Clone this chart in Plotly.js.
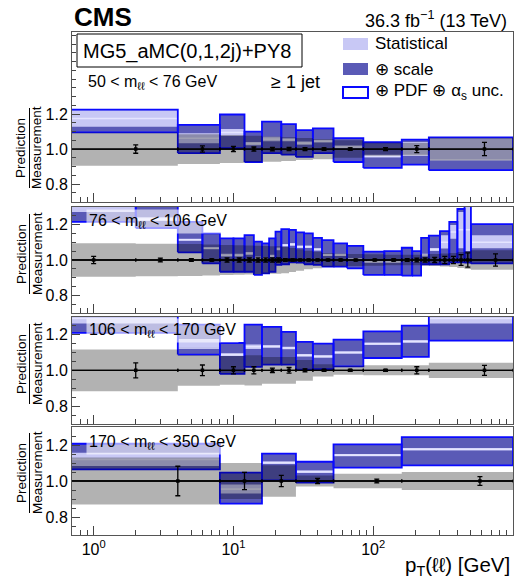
<!DOCTYPE html>
<html><head><meta charset="utf-8">
<script src="https://cdn.plot.ly/plotly-3.0.1.min.js"></script>
<style>html,body{margin:0;padding:0;background:#fff}#chart{width:525px;height:580px}</style>
</head><body><div id="chart"></div>
<script>
// ---------------- data: 50 < m < 76 GeV ----------------
const edges_50_76   = [0,4,8,12,16,22,28,37,52,85,160,250,1000];
const measUnc_50_76 = [0.095,0.085,0.08,0.076,0.072,0.068,0.063,0.058,0.05,0.038,0.036,0.065];
const measErr_50_76 = [0.024,0.018,0.015,0.012,0.01,0.009,0.008,0.007,0.007,0.008,0.02,0.038];
const predLo_50_76  = [1.096,0.977,1.006,0.926,0.977,0.968,0.955,0.977,0.926,0.892,0.911,0.879];
const predHi_50_76  = [1.226,1.138,1.198,1.100,1.157,1.143,1.109,1.119,1.063,1.039,1.054,1.067];
const statLo_50_76  = [1.128,1.034,1.075,1.022,1.045,1.045,1.025,1.038,1.005,0.952,0.964,0.943];
const statHi_50_76  = [1.222,1.091,1.115,1.040,1.070,1.062,1.043,1.053,1.020,0.968,1.040,1.062];
const predC_50_76   = [1.175,1.062,1.095,1.031,1.057,1.053,1.034,1.045,1.012,0.960,0.966,0.939];

// ---------------- data: 76 < m < 106 GeV ----------------
const edges_76_106   = [0,2,4,6,8,10,12,14,16,18,20,22,25,28,32,37,43,52,65,85,120,160,190,220,250,300,350,400,450,500,1000];
const measUnc_76_106 = [0.094,0.092,0.09,0.087,0.085,0.083,0.081,0.08,0.079,0.078,0.077,0.075,0.068,0.06,0.052,0.047,0.04,0.037,0.034,0.032,0.03,0.03,0.03,0.032,0.034,0.036,0.04,0.045,0.05,0.055];
const measErr_76_106 = [0.02,0.01,0.008,0.006,0.012,0.012,0.012,0.012,0.012,0.012,0.012,0.008,0.006,0.005,0.005,0.005,0.005,0.005,0.005,0.005,0.006,0.008,0.01,0.012,0.015,0.02,0.02,0.03,0.04,0.035];
const predLo_76_106  = [1.215,1.18,1.043,0.981,0.934,0.934,0.934,0.916,0.925,0.934,0.972,0.976,0.987,0.985,0.976,0.972,0.963,0.963,0.953,0.916,0.916,0.912,0.912,0.976,0.976,0.976,0.987,0.987,0.985,0.981];
const predHi_76_106  = [1.40,1.36,1.215,1.15,1.122,1.122,1.14,1.103,1.094,1.122,1.16,1.174,1.169,1.155,1.15,1.125,1.112,1.094,1.079,1.047,1.05,1.069,1.05,1.125,1.137,1.163,1.215,1.287,1.34,1.202];
const statLo_76_106  = [1.27,1.22,1.108,1.06,1.02,1.02,1.03,1.005,1.0,1.015,1.055,1.076,1.08,1.068,1.068,1.053,1.022,1.022,0.998,0.985,0.985,0.993,0.99,1.02,1.05,1.065,1.12,1.066,1.05,1.066];
const statHi_76_106  = [1.36,1.24,1.12,1.072,1.035,1.035,1.045,1.02,1.015,1.03,1.07,1.09,1.095,1.082,1.082,1.066,1.035,1.035,1.01,0.996,0.996,1.006,1.002,1.035,1.068,1.14,1.197,1.27,1.30,1.14];
const predC_76_106   = [1.31,1.23,1.114,1.066,1.027,1.027,1.037,1.012,1.007,1.022,1.062,1.083,1.087,1.075,1.075,1.06,1.028,1.028,1.004,0.99,0.99,0.999,0.996,1.027,1.059,1.1,1.158,1.17,1.17,1.1];

// ---------------- data: 106 < m < 170 GeV ----------------
const edges_106_170   = [0,4,8,12,16,22,28,37,52,85,160,250,1000];
const measUnc_106_170 = [0.117,0.086,0.08,0.085,0.075,0.075,0.058,0.034,0.025,0.028,0.028,0.043];
const measErr_106_170 = [0.042,0.03,0.02,0.02,0.012,0.016,0.008,0.006,0.006,0.006,0.02,0.028];
const predLo_106_170  = [1.209,1.088,0.98,1.019,1.032,1.032,1.004,1.007,1.022,1.069,1.075,1.166];
const predHi_106_170  = [1.32,1.256,1.153,1.256,1.243,1.215,1.159,1.149,1.172,1.218,1.25,1.32];
const statLo_106_170  = [1.262,1.13,1.08,1.12,1.127,1.118,1.077,1.071,1.093,1.142,1.155,1.262];
const statHi_106_170  = [1.32,1.175,1.095,1.144,1.14,1.132,1.091,1.085,1.107,1.156,1.169,1.32];
const predC_106_170   = [1.29,1.125,1.088,1.132,1.134,1.125,1.084,1.078,1.1,1.149,1.162,1.29];

// ---------------- data: 170 < m < 350 GeV ----------------
const edges_170_350   = [0,8,16,28,52,160,1000];
const measUnc_170_350 = [0.13,0.1,0.087,0.03,0.04,0.05];
const measErr_170_350 = [0.082,0.048,0.031,0.015,0.01,0.024];
const predLo_170_350  = [1.065,0.874,1.004,0.991,1.074,1.087];
const predHi_170_350  = [1.207,1.046,1.152,1.107,1.204,1.244];
const statLo_170_350  = [1.083,0.93,1.095,1.045,1.137,1.169];
const statHi_170_350  = [1.157,0.981,1.108,1.058,1.15,1.183];
const predC_170_350   = [1.12,0.955,1.102,1.052,1.144,1.176];

const panelLabels = ['50 < m<sub>ℓℓ</sub> < 76 GeV','76 < m<sub>ℓℓ</sub> < 106 GeV','106 < m<sub>ℓℓ</sub> < 170 GeV','170 < m<sub>ℓℓ</sub> < 350 GeV'];
const xTickVals = [1,10,100,1000];
const xTickText = ['10<sup>0</sup>','10<sup>1</sup>','10<sup>2</sup>','10<sup>3</sup>'];

// ---------------- drawing ----------------
const XMIN = 0.5;
const FONT = 'Liberation Sans, Arial, Helvetica, sans-serif';
const C_DARK = '#5a5ab6', C_LIGHT = '#c8c8f5', C_BLUE = '#0a0aff', C_CENTER = '#e4e4ff';

const panels = [
  {e:edges_50_76, mu:measUnc_50_76, me:measErr_50_76, pl:predLo_50_76, ph:predHi_50_76, sl:statLo_50_76, sh:statHi_50_76, pc:predC_50_76},
  {e:edges_76_106, mu:measUnc_76_106, me:measErr_76_106, pl:predLo_76_106, ph:predHi_76_106, sl:statLo_76_106, sh:statHi_76_106, pc:predC_76_106},
  {e:edges_106_170, mu:measUnc_106_170, me:measErr_106_170, pl:predLo_106_170, ph:predHi_106_170, sl:statLo_106_170, sh:statHi_106_170, pc:predC_106_170},
  {e:edges_170_350, mu:measUnc_170_350, me:measErr_170_350, pl:predLo_170_350, ph:predHi_170_350, sl:statLo_170_350, sh:statHi_170_350, pc:predC_170_350}
];

function boxes(edges, lo, hi){
  const x=[], y=[];
  for(let i=0;i<lo.length;i++){
    const a=Math.max(edges[i],XMIN), b=edges[i+1];
    x.push(a,b,b,a,a,null); y.push(lo[i],lo[i],hi[i],hi[i],lo[i],null);
  }
  return {x,y};
}
function segs(edges, v){
  const x=[], y=[];
  for(let i=0;i<v.length;i++){
    x.push(Math.max(edges[i],XMIN), edges[i+1], null); y.push(v[i], v[i], null);
  }
  return {x,y};
}

const traces=[];
panels.forEach((p,k)=>{
  const s = k===0?'':String(k+1);
  const xa='x'+s, ya='y'+s;
  const tot = boxes(p.e,p.pl,p.ph);
  const st = boxes(p.e,p.sl,p.sh);
  const cl = segs(p.e,p.pc);
  const gl = p.mu.map(u=>1-u), gh = p.mu.map(u=>1+u);
  const gr = boxes(p.e,gl,gh);
  traces.push({x:tot.x,y:tot.y,xaxis:xa,yaxis:ya,type:'scatter',mode:'lines',fill:'toself',fillcolor:C_DARK,line:{width:0},hoverinfo:'skip',showlegend:false});
  traces.push({x:st.x,y:st.y,xaxis:xa,yaxis:ya,type:'scatter',mode:'lines',fill:'toself',fillcolor:C_LIGHT,line:{width:0},hoverinfo:'skip',showlegend:false});
  traces.push({x:cl.x,y:cl.y,xaxis:xa,yaxis:ya,type:'scatter',mode:'lines',line:{width:1.6,color:C_CENTER},hoverinfo:'skip',showlegend:false});
  traces.push({x:tot.x,y:tot.y,xaxis:xa,yaxis:ya,type:'scatter',mode:'lines',line:{width:1.8,color:C_BLUE},hoverinfo:'skip',showlegend:false});
  traces.push({x:gr.x,y:gr.y,xaxis:xa,yaxis:ya,type:'scatter',mode:'lines',fill:'toself',fillcolor:'rgba(0,0,0,0.3)',line:{width:0},hoverinfo:'skip',showlegend:false});
  const cx=[], ex=[], exm=[], cy=[];
  for(let i=0;i<p.me.length;i++){
    const a=p.e[i], b=p.e[i+1], c=(a+b)/2;
    cx.push(c); ex.push(b-c); exm.push(c-Math.max(a,XMIN)); cy.push(1);
  }
  traces.push({x:cx,y:cy,xaxis:xa,yaxis:ya,type:'scatter',mode:'markers',
    marker:{symbol:'square',size:3.5,color:'#000'},
    error_y:{type:'data',array:p.me,visible:true,color:'#000',thickness:1.3,width:2.5},
    error_x:{type:'data',array:ex,arrayminus:exm,visible:true,color:'#000',thickness:1.3,width:1.5},
    hoverinfo:'skip',showlegend:false});
});

const py = y => (535-y)/503;
const px = x => (x-72)/441;

const domains = [[py(201.5),1],[py(313.3),py(206.7)],[py(424),py(316.7)],[0,py(427)]];
const yranges = [[0.7,1.67],[0.7,1.3],[0.7,1.3],[0.7,1.3]];

const layout = {
  width:525,height:580,margin:{l:72,r:12,t:32,b:45},
  paper_bgcolor:'#fff',plot_bgcolor:'#fff',showlegend:false,
  font:{family:FONT,size:16,color:'#000'},
  shapes:[],annotations:[]
};
function ann(o){ o.xref='paper'; o.yref='paper'; o.showarrow=false; o.font=Object.assign({family:FONT,color:'#000'},o.font||{}); layout.annotations.push(o); }

const minorX=[0.7,0.8,0.9,2,3,4,5,6,7,8,9,20,30,40,50,60,70,80,90,200,300,400,500,600,700,800,900];
panels.forEach((p,k)=>{
  const s = k===0?'':String(k+1);
  layout['xaxis'+s] = {type:'log',range:[Math.log10(0.7),3],anchor:'y'+s,domain:[0,1],
    showline:true,mirror:true,linecolor:'#555',linewidth:1,showgrid:false,zeroline:false,
    ticks:'inside',ticklen:9,tickcolor:'#444',tickmode:'array',tickvals:xTickVals,ticktext:xTickText,
    showticklabels:k===3,tickfont:{size:16,family:FONT},
    minor:{tickmode:'array',tickvals:minorX,ticks:'inside',ticklen:5,tickcolor:'#444'}};
  layout['yaxis'+s] = {range:yranges[k],domain:domains[k],anchor:'x'+s,
    showline:true,mirror:true,linecolor:'#555',linewidth:1,showgrid:false,zeroline:false,
    ticks:'inside',ticklen:8,tickcolor:'#444',tickmode:'array',tickvals:[0.8,1.0,1.2],ticktext:['0.8','1.0','1.2'],
    tickfont:{size:16,family:FONT},
    minor:{tickmode:'linear',tick0:0.7,dtick:0.05,ticks:'inside',ticklen:4,tickcolor:'#444'}};
  layout.shapes.push({type:'line',xref:'paper',x0:0,x1:1,yref:'y'+s,y0:1,y1:1,line:{color:'#000',width:1.3}});
  const yc=[148,254,364,473][k];
  ann({text:'Prediction',textangle:-90,x:px(21),y:py(yc),xanchor:'center',yanchor:'middle',font:{size:13.5}});
  ann({text:'Measurement',textangle:-90,x:px(37),y:py(yc),xanchor:'center',yanchor:'middle',font:{size:13.5}});
  layout.shapes.push({type:'line',xref:'paper',yref:'paper',x0:px(29.5),x1:px(29.5),y0:py(yc-40),y1:py(yc+40),line:{color:'#000',width:1}});
  if(k>0){
    ann({text:panelLabels[k],x:px(86),y:py([0,221,330,442][k]),xanchor:'left',yanchor:'middle',font:{size:16},bgcolor:'rgba(255,255,255,0.6)',borderpad:2});
  }
});

// header & legend
ann({text:'<b>CMS</b>',x:px(72),y:py(16.5),xanchor:'left',yanchor:'middle',font:{size:26}});
ann({text:'36.3 fb<sup>−1</sup> (13 TeV)',x:px(509),y:py(19),xanchor:'right',yanchor:'middle',font:{size:18}});
layout.shapes.push({type:'rect',xref:'paper',yref:'paper',x0:px(77),x1:px(302),y0:py(34),y1:py(67),line:{color:'#000',width:1},fillcolor:'#fff'});
ann({text:'MG5_aMC(0,1,2j)+PY8',x:px(81),y:py(51),xanchor:'left',yanchor:'middle',font:{size:20}});
layout.shapes.push({type:'rect',xref:'paper',yref:'paper',x0:px(343),x1:px(368),y0:py(38),y1:py(50),line:{width:0},fillcolor:C_LIGHT});
layout.shapes.push({type:'rect',xref:'paper',yref:'paper',x0:px(343),x1:px(368),y0:py(63),y1:py(75),line:{width:0},fillcolor:C_DARK});
layout.shapes.push({type:'rect',xref:'paper',yref:'paper',x0:px(343),x1:px(368),y0:py(87),y1:py(98),line:{width:2,color:C_BLUE},fillcolor:'#fff'});
ann({text:'Statistical',x:px(373),y:py(44),xanchor:'left',yanchor:'middle',font:{size:17}});
ann({text:'⊕ scale',x:px(373),y:py(69),xanchor:'left',yanchor:'middle',font:{size:17}});
ann({text:'⊕ PDF ⊕ α<sub>s</sub> unc.',x:px(373),y:py(92),xanchor:'left',yanchor:'middle',font:{size:17}});
ann({text:panelLabels[0],x:px(86),y:py(83),xanchor:'left',yanchor:'middle',font:{size:16}});
ann({text:'≥ 1 jet',x:px(269),y:py(82),xanchor:'left',yanchor:'middle',font:{size:18}});
ann({text:'p<sub>T</sub>(ℓℓ) [GeV]',x:px(512),y:py(566),xanchor:'right',yanchor:'middle',font:{size:20.5}});

Plotly.newPlot('chart',traces,layout,{displayModeBar:false,staticPlot:true});
</script></body></html>
